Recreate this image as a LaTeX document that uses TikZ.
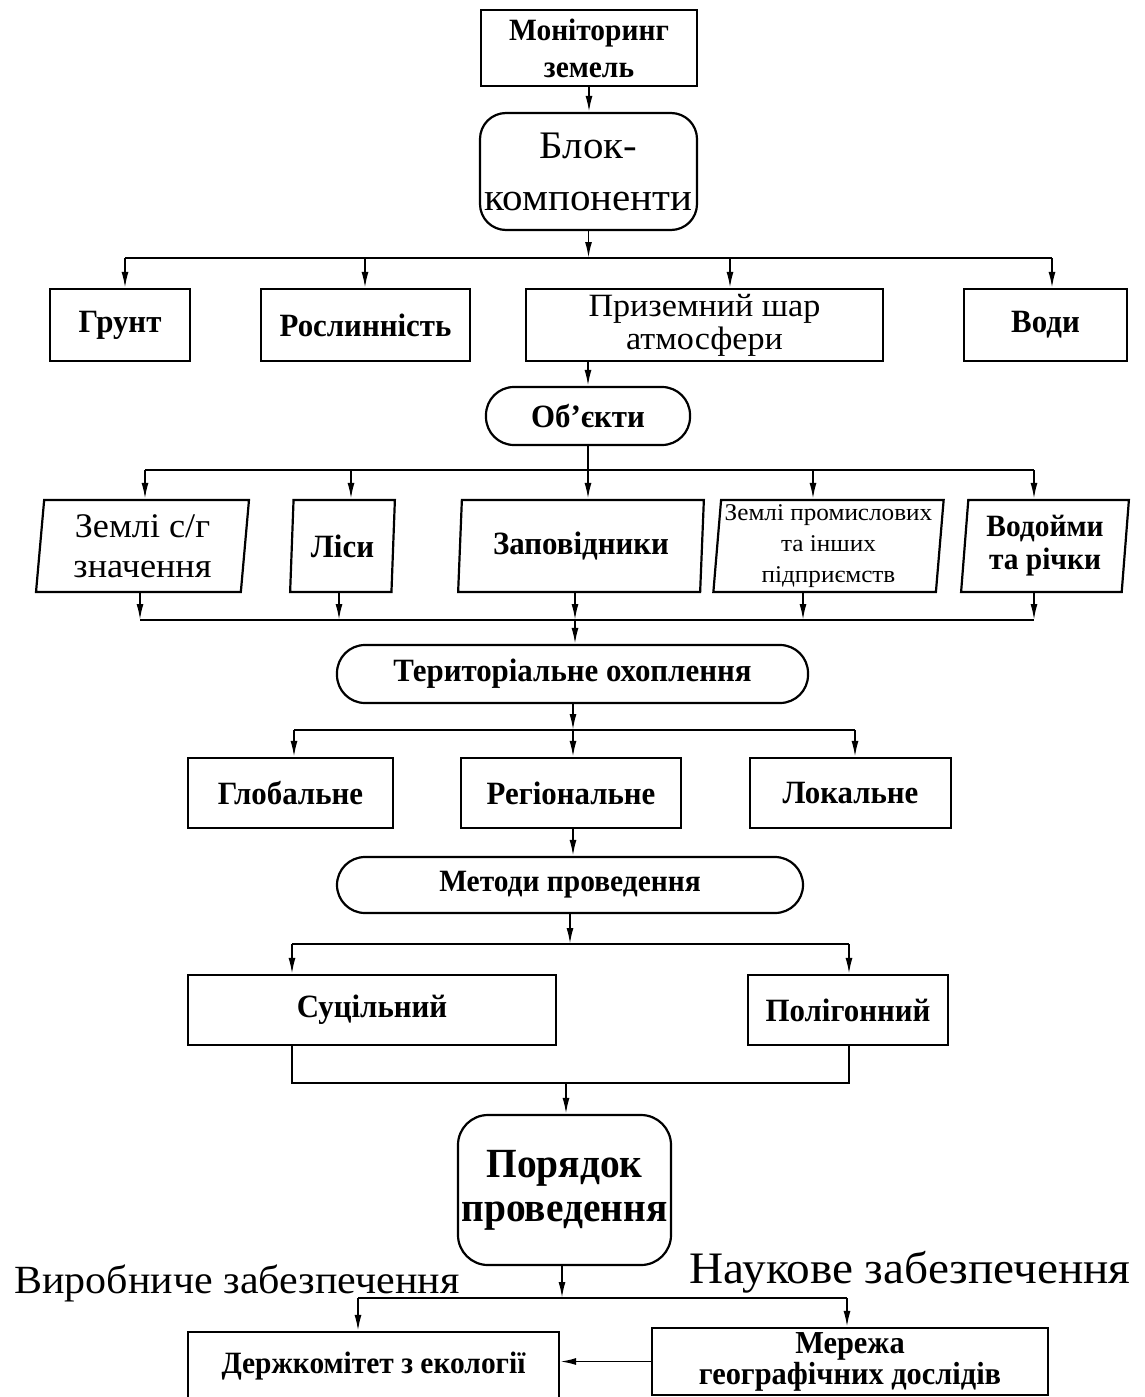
\documentclass[tikz,border=0pt]{standalone}
\usepackage{fontspec}
\setmainfont{Liberation Serif}[FakeStretch=1.05,BoldFeatures={FakeStretch=0.95}]
\usetikzlibrary{arrows.meta,positioning,calc,shapes.geometric}

\begin{document}
\begin{tikzpicture}[x=1pt,y=-1pt,>={Latex[length=16pt,width=7pt]},
 box/.style={draw,line width=2.2pt,inner sep=2pt,align=center,font=\bfseries\fontsize{32.5}{36}\selectfont},
 rbox/.style={box,rounded corners=30pt},
 pill/.style={box,rounded corners=28pt},
 slant/.style={box,trapezium,trapezium left angle=85,trapezium right angle=95,trapezium stretches=true},
 link/.style={line width=1.8pt}]
\useasboundingbox (0,0) rectangle (1145,1397);
\clip (0,0) rectangle (1145,1397);

% top
\node[box,minimum width=216pt,minimum height=76pt,font=\bfseries\fontsize{31}{37}\selectfont] (mon) at (589,48) {Моніторинг\\земель};
\node[rbox,rounded corners=26pt,minimum width=217pt,minimum height=117pt,font=\fontsize{39}{52}\selectfont] (blok) at (588.5,171.5) {Блок-\\компоненти};
\draw[link,->] (mon) -- (mon.south |- blok.north);

% components
\node[box,minimum width=140pt,minimum height=72pt] (grunt) at (120,325) {Грунт};
\node[box,minimum width=209pt,minimum height=72pt] (rosl) at (365.5,325) {Рослинність};
\node[box,minimum width=357pt,minimum height=72pt,font=\fontsize{32.5}{33}\selectfont] (atm) at (704.5,325) {Приземний шар\\атмосфери};
\node[box,minimum width=163pt,minimum height=72pt] (vody) at (1045.5,325) {Води};
\coordinate (a1) at (125,258);
\coordinate (a2) at (365,258);
\coordinate (a3) at (730,258);
\coordinate (a4) at (1052,258);
\draw[link,->] (blok.south) -- (blok.south |- a1);
\draw[link] (a1) -- (a4);
\foreach \c/\n in {a1/grunt,a2/rosl,a3/atm,a4/vody}
  \draw[link,->] (\c) -- (\c |- \n.north);

% objects
\node[pill,minimum width=204pt,minimum height=58pt] (obj) at (588,416) {Об’єкти};
\draw[link,->] (obj.north |- atm.south) -- (obj.north);
\node[slant,minimum width=213pt,minimum height=92pt,font=\fontsize{34.5}{40}\selectfont] (zem) at (142.5,546) {Землі с/г\\значення};
\node[slant,minimum width=105pt,minimum height=92pt] (lisy) at (342.5,546) {Ліси};
\node[slant,minimum width=246pt,minimum height=92pt] (zapov) at (581,546) {Заповідники};
\node[slant,minimum width=231pt,minimum height=92pt,font=\fontsize{24}{31}\selectfont] (prom) at (828.5,546) {Землі промислових\\та інших\\підприємств};
\node[slant,minimum width=168pt,minimum height=92pt,font=\bfseries\fontsize{31}{33}\selectfont] (vodoim) at (1045,546) {Водойми\\та річки};
\coordinate (b1) at (145,470);
\coordinate (b2) at (351,470);
\coordinate (b3) at (588,470);
\coordinate (b4) at (813,470);
\coordinate (b5) at (1034,470);
\draw[link] (obj.south) -- (b3);
\draw[link] (b1) -- (b5);
\foreach \c/\n in {b1/zem,b2/lisy,b3/zapov,b4/prom,b5/vodoim}
  \draw[link,->] (\c) -- (\c |- \n.north);

% territory
\node[pill,minimum width=471pt,minimum height=58pt] (ter) at (572.5,674) {Територіальне охоплення};
\coordinate (d1) at (140,620);
\coordinate (d2) at (339,620);
\coordinate (d3) at (575,620);
\coordinate (d4) at (803,620);
\coordinate (d5) at (1034,620);
\foreach \c/\n in {d1/zem,d2/lisy,d3/zapov,d4/prom,d5/vodoim}
  \draw[link,->] (\c |- \n.south) -- (\c);
\draw[link] (d1) -- (d5);
\draw[link,->] (d3) -- (d3 |- ter.north);
\node[box,minimum width=205pt,minimum height=70pt] (glob) at (290.5,793) {Глобальне};
\node[box,minimum width=220pt,minimum height=70pt] (reg) at (571,793) {Регіональне};
\node[box,minimum width=201pt,minimum height=70pt] (lok) at (850.5,793) {Локальне};
\coordinate (e1) at (294,730);
\coordinate (e2) at (573,730);
\coordinate (e3) at (855,730);
\draw[link,->] (ter.south -| e2) -- (e2);
\draw[link] (e1) -- (e3);
\foreach \c/\n in {e1/glob,e2/reg,e3/lok}
  \draw[link,->] (\c) -- (\c |- \n.north);

% methods
\node[pill,minimum width=466pt,minimum height=56pt,font=\bfseries\fontsize{31}{33}\selectfont] (met) at (570,885) {Методи проведення};
\draw[link,->] (reg.south -| e2) -- (e2 |- met.north);
\node[box,minimum width=368pt,minimum height=70pt] (sutz) at (372,1010) {Суцільний};
\node[box,minimum width=200pt,minimum height=70pt] (polig) at (848,1010) {Полігонний};
\coordinate (f1) at (292,944);
\coordinate (f2) at (570,944);
\coordinate (f3) at (849,944);
\draw[link,->] (met.south) -- (f2);
\draw[link] (f1) -- (f3);
\draw[link,->] (f1) -- (f1 |- sutz.north);
\draw[link,->] (f3) -- (f3 |- polig.north);

% order
\node[rbox,minimum width=213pt,minimum height=150pt,font=\bfseries\fontsize{41.5}{44}\selectfont] (por) at (564.5,1190) {Порядок\\проведення};
\coordinate (h1) at (292,1083);
\coordinate (h2) at (566,1083);
\coordinate (h3) at (849,1083);
\draw[link] (h1 |- sutz.south) -- (h1) -- (h3) -- (h3 |- polig.south);
\draw[link,->] (h2) -- (h2 |- por.north);

% support
\node[anchor=base,font=\fontsize{40}{42}\selectfont] (virob) at (237,1293) {Виробниче забезпечення};
\node[anchor=base,font=\fontsize{45}{47}\selectfont] (nauk) at (910,1283) {Наукове забезпечення};
\node[box,minimum width=371pt,minimum height=68pt,font=\bfseries\fontsize{31}{33}\selectfont] (derzh) at (373.5,1366) {Держкомітет з екології};
\node[box,minimum width=396pt,minimum height=67pt] (mer) at (850,1361.5) {};
\node[align=center,inner sep=0pt,font=\bfseries\fontsize{32}{31}\selectfont] (mertxt) at (850,1362) {Мережа\\географічних дослідів};
\coordinate (i1) at (358,1298);
\coordinate (i2) at (562,1298);
\coordinate (i3) at (847,1298);
\draw[link,->] (i2 |- por.south) -- (i2);
\draw[link] (i1) -- (i3);
\draw[link,->] (i1) -- (i1 |- derzh.north);
\draw[link,->] (i3) -- (i3 |- mer.north);
\draw[link,->] (mer.west) -- (derzh.east |- mer.west);
\end{tikzpicture}
\end{document}
